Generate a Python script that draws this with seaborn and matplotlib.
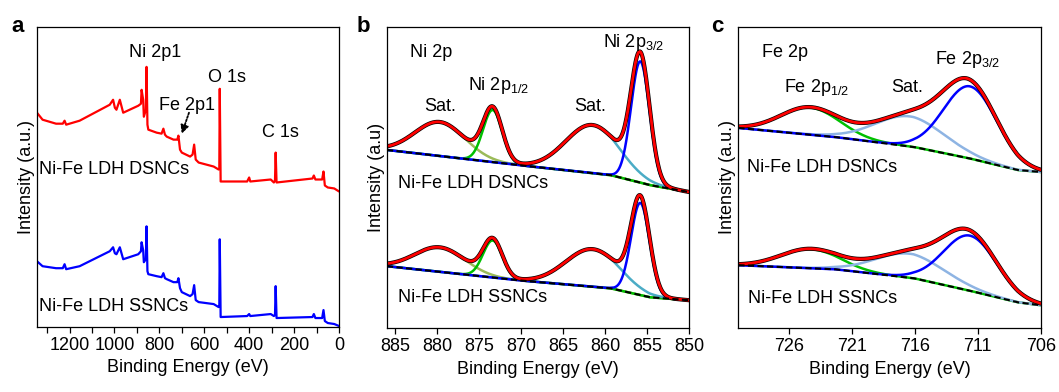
import numpy as np
import pandas as pd
import matplotlib
matplotlib.use("Agg")
import matplotlib.pyplot as plt
import seaborn as sns

# ---------------- Panel a: XPS survey spectra ----------------
survey_energy = [1345, 1320, 1260, 1230, 1222, 1215, 1155, 1021, 1006, 998, 991, 976, 961,
                 894, 882, 879, 872, 869, 860, 857, 853, 849, 812, 790, 782, 775, 767, 737,
                 720, 715, 708, 700, 663, 652, 645, 638, 625, 558, 536, 533, 531, 527, 409,
                 400, 395, 304, 290, 285, 282, 278, 118, 112, 105, 75, 69, 63, 50, 21, 0]
survey_dsncs = [214, 207, 203, 203, 206, 202, 206, 222, 227, 219, 217, 227, 214,
                221, 223, 237, 227, 210, 217, 260, 202, 197, 194, 193, 198, 192, 190, 187,
                187, 191, 177, 174, 170, 172, 182, 167, 164, 160, 157, 158, 238, 145, 145,
                149, 145, 147, 144, 146, 174, 144, 148, 151, 147, 147, 155, 141, 139, 138, 135]
survey_ssncs = [65, 60, 58, 58, 62, 57, 60, 75, 79, 73, 72, 79, 67,
                72, 75, 84, 76, 64, 67, 100, 55, 52, 50, 49, 53, 48, 47, 44,
                44, 48, 38, 34, 30, 32, 41, 26, 24, 22, 19, 20, 87, 9, 10,
                12, 10, 12, 10, 11, 40, 8, 9, 12, 8, 8, 16, 5, 3, 2, 0]
survey_ticks = [1300, 1200, 1100, 1000, 900, 800, 700, 600, 500, 400, 300, 200, 100, 0]
survey_ticklabels = ["", "1200", "", "1000", "", "800", "", "600", "", "400", "", "200", "", "0"]

# ---------------- Panel b: Ni 2p fits ----------------
ni_bg_energy = [886, 870.5, 859.4, 854.7, 850]
ni_bg_dsncs = [178, 163, 153, 143, 136]
ni_bg_ssncs = [62, 48, 40, 31, 28]
ni_center = [879.7, 873.4, 861.5, 855.8]
ni_fwhm = [7.0, 2.7, 7.5, 2.6]
ni_height_dsncs = [34, 52, 48, 121]
ni_height_ssncs = [24.5, 37, 37.5, 92]
ni_colors = ["#9bbb59", "#00c000", "#4bacc6", "#0000ff"]
ni_ticks = [885, 880, 875, 870, 865, 860, 855, 850]

# ---------------- Panel c: Fe 2p fits ----------------
fe_bg_energy = [730, 722.4, 716.1, 711.8, 707.85, 706]
fe_bg_dsncs = [200, 191, 181, 170, 158, 156]
fe_bg_ssncs = [63, 59, 50, 38, 26, 23]
fe_center = [724.3, 716.4, 711.6]
fe_fwhm = [5.5, 6.5, 5.0]
fe_height_dsncs = [27, 30, 72]
fe_height_ssncs = [19, 24, 55]
fe_colors = ["#00c000", "#8eb4e3", "#0000ff"]
fe_ticks = [726, 721, 716, 711, 706]

# ---------------- style ----------------
sns.set_theme(style="ticks")
plt.rcParams["font.family"] = ["Liberation Sans", "DejaVu Sans"]
plt.rcParams["mathtext.default"] = "regular"
plt.rcParams.update({
    "axes.edgecolor": "black", "axes.linewidth": 0.9,
    "xtick.color": "black", "xtick.major.size": 4, "xtick.major.width": 0.9,
    "xtick.labelsize": 13, "axes.labelsize": 13, "text.color": "black",
    "axes.labelcolor": "black",
})
FS = 13

fig = plt.figure(figsize=(10.59, 3.92), dpi=100)
ax_a = fig.add_axes([0.0349, 0.1658, 0.2852, 0.7653])
ax_b = fig.add_axes([0.3654, 0.1625, 0.2852, 0.7694])
ax_c = fig.add_axes([0.6972, 0.1625, 0.2856, 0.7694])


def line(ax, x, y, color, lw, **kw):
    df = pd.DataFrame({"E": x, "I": y})
    sns.lineplot(data=df, x="E", y="I", ax=ax, color=color, linewidth=lw,
                 estimator=None, sort=False, **kw)


def gauss(x, c, w, h):
    return h * np.exp(-4 * np.log(2) * ((x - c) / w) ** 2)


def draw_fit(ax, lim, bg_e, bg_i, centers, fwhms, heights, colors):
    grid = np.linspace(lim[0], lim[1], 600)
    bg = np.interp(grid, bg_e[::-1], bg_i[::-1])
    comps = [gauss(grid, c, w, h) for c, w, h in zip(centers, fwhms, heights)]
    for comp, col in zip(comps, colors):
        line(ax, grid, bg + comp, col, 1.8)
    env = bg + np.sum(comps, axis=0)
    line(ax, grid, env, "black", 3.0)
    line(ax, grid, env, "#ff0000", 2.0)
    line(ax, grid, bg, "black", 1.5, dashes=(3, 1.6))


# ---- panel a ----
line(ax_a, survey_energy, survey_dsncs, "#ff0000", 1.6)
line(ax_a, survey_energy, survey_ssncs, "#0000ff", 1.6)
ax_a.set_xlim(1345, 0)
ax_a.set_ylim(-1, 300)
ax_a.set_xticks(survey_ticks)
ax_a.set_xticklabels(survey_ticklabels)
ax_a.set_ylabel("Intensity (a.u.)", labelpad=1.5)
ax_a.text(819, 274, "Ni 2p1", ha="center", va="center", fontsize=FS)
ax_a.text(497, 249, "O 1s", ha="center", va="center", fontsize=FS)
ax_a.text(676, 221, "Fe 2p1", ha="center", va="center", fontsize=FS)
ax_a.text(260, 194, "C 1s", ha="center", va="center", fontsize=FS)
ax_a.text(1334, 157, "Ni-Fe LDH DSNCs", ha="left", va="center", fontsize=FS)
ax_a.text(1334, 20, "Ni-Fe LDH SSNCs", ha="left", va="center", fontsize=FS)
arrow_start = (668, 214)
arrow_end = (700, 193)
ax_a.annotate("", xy=arrow_end, xytext=arrow_start,
              arrowprops=dict(arrowstyle="-|>", linestyle=(0, (1, 1)), color="black",
                              lw=1.3, mutation_scale=12, shrinkA=0, shrinkB=0))

# ---- panel b ----
draw_fit(ax_b, (886, 850), ni_bg_energy, ni_bg_dsncs, ni_center, ni_fwhm, ni_height_dsncs, ni_colors)
draw_fit(ax_b, (886, 850), ni_bg_energy, ni_bg_ssncs, ni_center, ni_fwhm, ni_height_ssncs, ni_colors)
ax_b.set_xlim(886, 850)
ax_b.set_ylim(0, 301)
ax_b.set_xticks(ni_ticks)
ax_b.set_ylabel("Intensity (a.u)", labelpad=1.5)
ax_b.text(883.2, 275, "Ni 2p", ha="left", va="center", fontsize=FS)
ax_b.text(876.3, 242, "Ni 2p$_{1/2}$", ha="left", va="center", fontsize=FS)
ax_b.text(879.7, 221, "Sat.", ha="center", va="center", fontsize=FS)
ax_b.text(861.8, 221, "Sat.", ha="center", va="center", fontsize=FS)
ax_b.text(860.3, 285, "Ni 2p$_{3/2}$", ha="left", va="center", fontsize=FS)
ax_b.text(884.7, 145, "Ni-Fe LDH DSNCs", ha="left", va="center", fontsize=FS)
ax_b.text(884.7, 31, "Ni-Fe LDH SSNCs", ha="left", va="center", fontsize=FS)

# ---- panel c ----
draw_fit(ax_c, (730, 706), fe_bg_energy, fe_bg_dsncs, fe_center, fe_fwhm, fe_height_dsncs, fe_colors)
draw_fit(ax_c, (730, 706), fe_bg_energy, fe_bg_ssncs, fe_center, fe_fwhm, fe_height_ssncs, fe_colors)
ax_c.set_xlim(730, 706)
ax_c.set_ylim(0, 301)
ax_c.set_xticks(fe_ticks)
ax_c.set_ylabel("Intensity (a.u.)", labelpad=1.5)
ax_c.text(728.1, 275, "Fe 2p", ha="left", va="center", fontsize=FS)
ax_c.text(726.4, 240, "Fe 2p$_{1/2}$", ha="left", va="center", fontsize=FS)
ax_c.text(717.9, 240, "Sat.", ha="left", va="center", fontsize=FS)
ax_c.text(714.4, 268, "Fe 2p$_{3/2}$", ha="left", va="center", fontsize=FS)
ax_c.text(729.3, 160, "Ni-Fe LDH DSNCs", ha="left", va="center", fontsize=FS)
ax_c.text(729.2, 30, "Ni-Fe LDH SSNCs", ha="left", va="center", fontsize=FS)

for ax in (ax_a, ax_b, ax_c):
    ax.set_yticks([])
    ax.set_xlabel("Binding Energy (eV)")
    for s in ax.spines.values():
        s.set_visible(True)
        s.set_color("black")
    ax.tick_params(axis="x", direction="out", length=4, pad=3)

for label, xpx in (("a", 11), ("b", 357), ("c", 711)):
    fig.text(xpx / 1059, (392 - 32) / 392, label, fontsize=16, fontweight="bold",
             ha="left", va="baseline")

fig.savefig("out.png", dpi=100)
